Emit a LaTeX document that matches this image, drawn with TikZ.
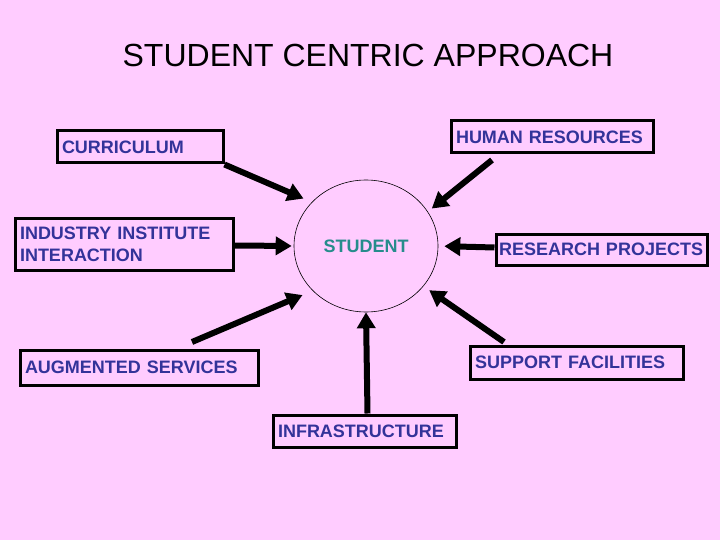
\documentclass[tikz,border=0pt]{standalone}
\usepackage{fontspec}
\setmainfont{Liberation Sans}
\usetikzlibrary{arrows.meta}
\usetikzlibrary{shapes.geometric}
\definecolor{slidebg}{RGB}{255,204,255}
\definecolor{labelblue}{RGB}{51,51,153}
\definecolor{hubteal}{RGB}{38,140,140}
\tikzset{
    factor/.style = {draw,line width=3pt,fill=slidebg,text=labelblue,align=left,
        font=\bfseries\fontsize{18}{22}\selectfont,inner xsep=5pt,inner ysep=0pt,anchor=north west},
    hub/.style = {ellipse,draw,line width=0.6pt,inner sep=0,text=hubteal,font=\bfseries\fontsize{18}{22}\selectfont},
    feed/.style = {line width=6pt,-{Triangle[length=16pt,width=18pt]}}
}

\begin{document}
\begin{tikzpicture}[x=1pt,y=-1pt]
        % Slide
        \fill[slidebg] (0,0) rectangle (720,540);
        \node[font=\fontsize{32}{38}\selectfont] (title) at (368,55) {STUDENT CENTRIC APPROACH};
        % Centre
        \node[hub,minimum width=144pt,minimum height=132pt] (stu) at (366,246) {STUDENT};
        % Factors
        \node[factor,text width=156pt,minimum height=32pt] (curr) at (55.5,129.5) {CURRICULUM};
        \node[factor,text width=208pt,minimum height=51pt] (ind) at (13.5,217.5) {INDUSTRY INSTITUTE\\INTERACTION};
        \node[factor,text width=192pt,minimum height=32pt] (hr) at (449.5,119.5) {HUMAN RESOURCES};
        \node[factor,text width=205pt,inner xsep=3pt,minimum height=31pt] (res) at (494.5,232.5) {RESEARCH PROJECTS};
        \node[factor,text width=228pt,minimum height=35pt] (aug) at (18.5,348.5) {AUGMENTED SERVICES};
        \node[factor,text width=203pt,minimum height=33pt] (sup) at (468.5,344.5) {SUPPORT FACILITIES};
        \node[factor,text width=173pt,minimum height=32pt] (inf) at (271.5,413.5) {INFRASTRUCTURE};
        % Arrow feet
        \coordinate (indfoot) at ([yshift=-1pt]ind.east);
        \coordinate (resfoot) at ([yshift=2pt]res.west);
        \coordinate (hrfoot) at ([xshift=42.5pt,yshift=-5.5pt]hr.south west);
        \coordinate (augfoot) at ([xshift=173.5pt,yshift=6.5pt]aug.north west);
        \coordinate (supfoot) at ([xshift=35.5pt,yshift=2.5pt]sup.north west);
        \coordinate (inffoot) at ([xshift=3pt]inf.north);
        % Arrows
        \foreach \src/\dest/\gap in {curr.south east/141/9,indfoot/180/2,hrfoot/29/5,resfoot/0/6,augfoot/220/11,inffoot/270/0,supfoot/-35/7}
            \draw[feed,shorten >=\gap pt] (\src) -- (stu.\dest);
\end{tikzpicture}
\end{document}
